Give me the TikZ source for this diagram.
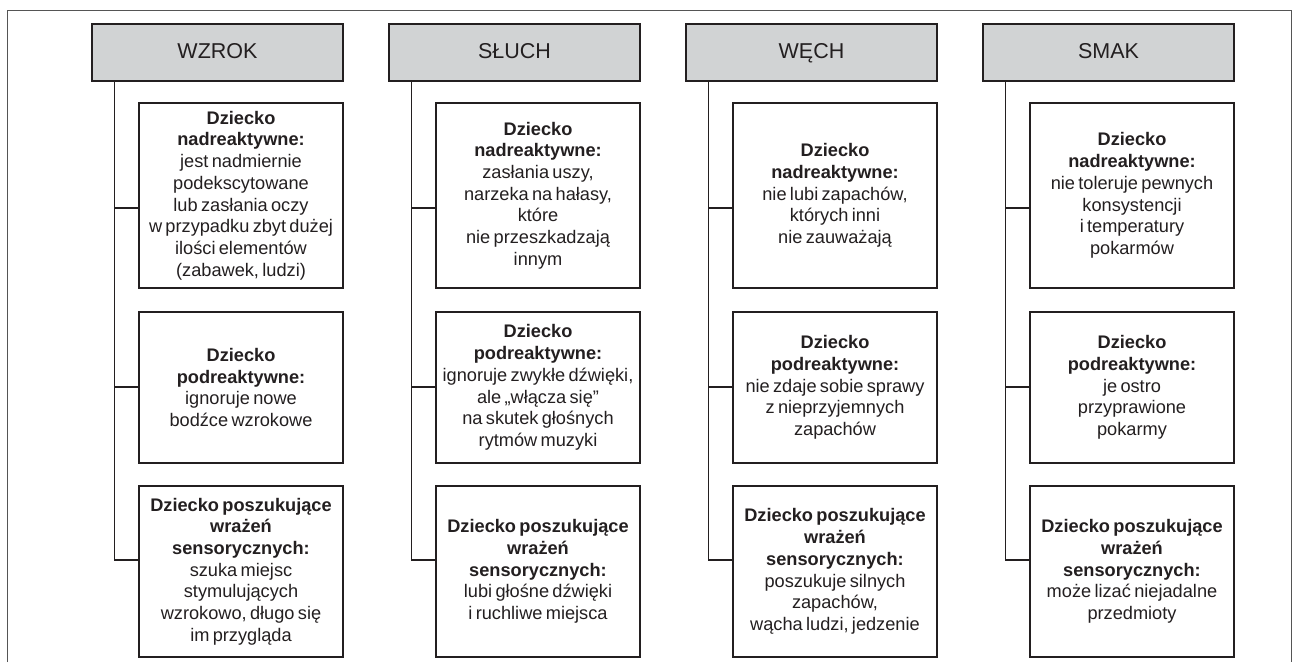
\documentclass[tikz,border=0pt]{standalone}
\usepackage{fontspec}
\setmainfont{Liberation Sans}
\definecolor{ink}{HTML}{231F20}
\definecolor{hdrfill}{HTML}{D1D3D4}
\definecolor{framec}{HTML}{555555}
\begin{document}
\begin{tikzpicture}[x=1pt,y=-1pt,
  hdr/.style={draw=ink,fill=hdrfill,line width=1.3pt,minimum width=251pt,minimum height=57pt,inner sep=0pt,text=ink,text height=16pt,text depth=4pt,font=\fontsize{21.5}{26}\selectfont},
  card/.style={draw=ink,fill=white,line width=1.3pt,minimum width=204pt,inner sep=0pt,text width=204pt,align=center,text=ink,
    execute at begin node={\fontsize{18.2}{21.7}\selectfont}},
  rowa/.style={card,minimum height=185pt},
  rowb/.style={card,minimum height=151pt},
  rowc/.style={card,minimum height=171pt},
  link/.style={draw=ink,line width=1.3pt},
  frm/.style={draw=framec,line width=1pt}]
\useasboundingbox (0,0) rectangle (1292,662);
\draw[frm] (7,662) -- (7,10) -- (1291,10) -- (1291,662);

% column 1: WZROK
\node[hdr] (h1) at (217.5,52.5) {WZROK};
\node[rowa] (b11) at (241,195.5) {\textbf{Dziecko}\\\textbf{nadreaktywne:}\\jest nadmiernie\\podekscytowane\\lub zasłania oczy\\w przypadku zbyt dużej\\ilości elementów\\(zabawek, ludzi)};
\node[rowb] (b12) at (241,387.5) {\textbf{Dziecko}\\\textbf{podreaktywne:}\\ignoruje nowe\\bodźce wzrokowe};
\node[rowc] (b13) at (241,571.5) {\textbf{Dziecko poszukujące}\\\textbf{wrażeń}\\\textbf{sensorycznych:}\\szuka miejsc\\stymulujących\\wzrokowo, długo się\\im przygląda};

% column 2: SŁUCH
\node[hdr] (h2) at (514.5,52.5) {SŁUCH};
\node[rowa] (b21) at (538,195.5) {\textbf{Dziecko}\\\textbf{nadreaktywne:}\\zasłania uszy,\\narzeka na hałasy,\\które\\nie przeszkadzają\\innym};
\node[rowb] (b22) at (538,387.5) {\textbf{Dziecko}\\\textbf{podreaktywne:}\\ignoruje zwykłe dźwięki,\\ale „włącza się”\\na skutek głośnych\\rytmów muzyki};
\node[rowc] (b23) at (538,571.5) {\textbf{Dziecko poszukujące}\\\textbf{wrażeń}\\\textbf{sensorycznych:}\\lubi głośne dźwięki\\i ruchliwe miejsca};

% column 3: WĘCH
\node[hdr] (h3) at (811.5,52.5) {WĘCH};
\node[rowa] (b31) at (835,195.5) {\textbf{Dziecko}\\\textbf{nadreaktywne:}\\nie lubi zapachów,\\których inni\\nie zauważają};
\node[rowb] (b32) at (835,387.5) {\textbf{Dziecko}\\\textbf{podreaktywne:}\\nie zdaje sobie sprawy\\z nieprzyjemnych\\zapachów};
\node[rowc] (b33) at (835,571.5) {\textbf{Dziecko poszukujące}\\\textbf{wrażeń}\\\textbf{sensorycznych:}\\poszukuje silnych\\zapachów,\\wącha ludzi, jedzenie};

% column 4: SMAK
\node[hdr] (h4) at (1108.5,52.5) {SMAK};
\node[rowa] (b41) at (1132,195.5) {\textbf{Dziecko}\\\textbf{nadreaktywne:}\\nie toleruje pewnych\\konsystencji\\i temperatury\\pokarmów};
\node[rowb] (b42) at (1132,387.5) {\textbf{Dziecko}\\\textbf{podreaktywne:}\\je ostro\\przyprawione\\pokarmy};
\node[rowc] (b43) at (1132,571.5) {\textbf{Dziecko poszukujące}\\\textbf{wrażeń}\\\textbf{sensorycznych:}\\może lizać niejadalne\\przedmioty};

% connectors
\foreach \c in {1,2,3,4}{
  \path (h\c.south west) ++(23,0) coordinate (s\c);
  \coordinate (k\c1) at (s\c |- 0,208);
  \coordinate (k\c2) at (s\c |- 0,387);
  \coordinate (k\c3) at (s\c |- 0,560);
  \draw[link] (s\c) -- (k\c3) -- (k\c3 -| b\c3.west);
  \draw[link] (k\c1) -- (k\c1 -| b\c1.west);
  \draw[link] (k\c2) -- (k\c2 -| b\c2.west);
}
\end{tikzpicture}
\end{document}
